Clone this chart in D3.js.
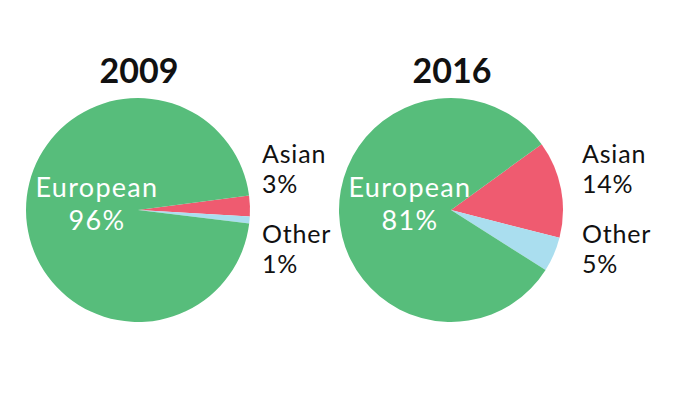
<!DOCTYPE html>
<html><head><meta charset="utf-8">
<script src="https://cdn.jsdelivr.net/npm/d3@7"></script>
<style>body{margin:0;background:#fff}svg{display:block}text{font-family:Lato,"Open Sans",sans-serif}</style>
</head><body>
<script>
const years = ["2009", "2016"];
const groups = ["Asian", "Other", "European"];
const values2009 = [3, 1, 96];
const values2016 = [14, 5, 81];
const startDeg = [82.5, 54];
const colors = ["#ef5b70", "#aadeef", "#57bd7b"];

const W = 680, H = 400;
const svg = d3.select("body").append("svg").attr("width", W).attr("height", H);
const allValues = [values2009, values2016];
const cx = d3.scaleOrdinal().domain(years).range([138, 451]);
const sideX = [124, 131];
const cy = 210, R = 112;
const color = d3.scaleOrdinal().domain(groups).range(colors);
const arc = d3.arc().innerRadius(0).outerRadius(R);

years.forEach((yr, i) => {
  const vals = allValues[i];
  const data = groups.map((g, j) => ({g, v: vals[j]}));
  const s = startDeg[i] * Math.PI / 180;
  const pie = d3.pie().value(d => d.v).sort(null).startAngle(s).endAngle(s + 2 * Math.PI);
  const g = svg.append("g").attr("transform", `translate(${cx(yr)},${cy})`);
  g.selectAll("path").data(pie(data)).join("path")
    .attr("d", arc).attr("fill", d => color(d.data.g));
  g.append("text").attr("x", 1).attr("y", -127).attr("text-anchor", "middle")
    .attr("font-size", 34).attr("font-weight", 700).attr("fill", "#111").text(yr);
  const eu = data[2];
  const lab = g.append("text").attr("text-anchor", "middle").attr("fill", "#fff")
    .attr("font-size", 27).attr("letter-spacing", 1.3);
  lab.append("tspan").attr("x", -41).attr("y", -13).text(eu.g);
  lab.append("tspan").attr("x", -41).attr("y", 20).text(eu.v + "%");
  [[data[0], -47], [data[1], 33]].forEach(([d, y]) => {
    const t = g.append("text").attr("fill", "#111").attr("font-size", 25).attr("letter-spacing", 0.8);
    t.append("tspan").attr("x", sideX[i]).attr("y", y).text(d.g);
    t.append("tspan").attr("x", sideX[i]).attr("y", y + 30).text(d.v + "%");
  });
});
</script>
</body></html>
